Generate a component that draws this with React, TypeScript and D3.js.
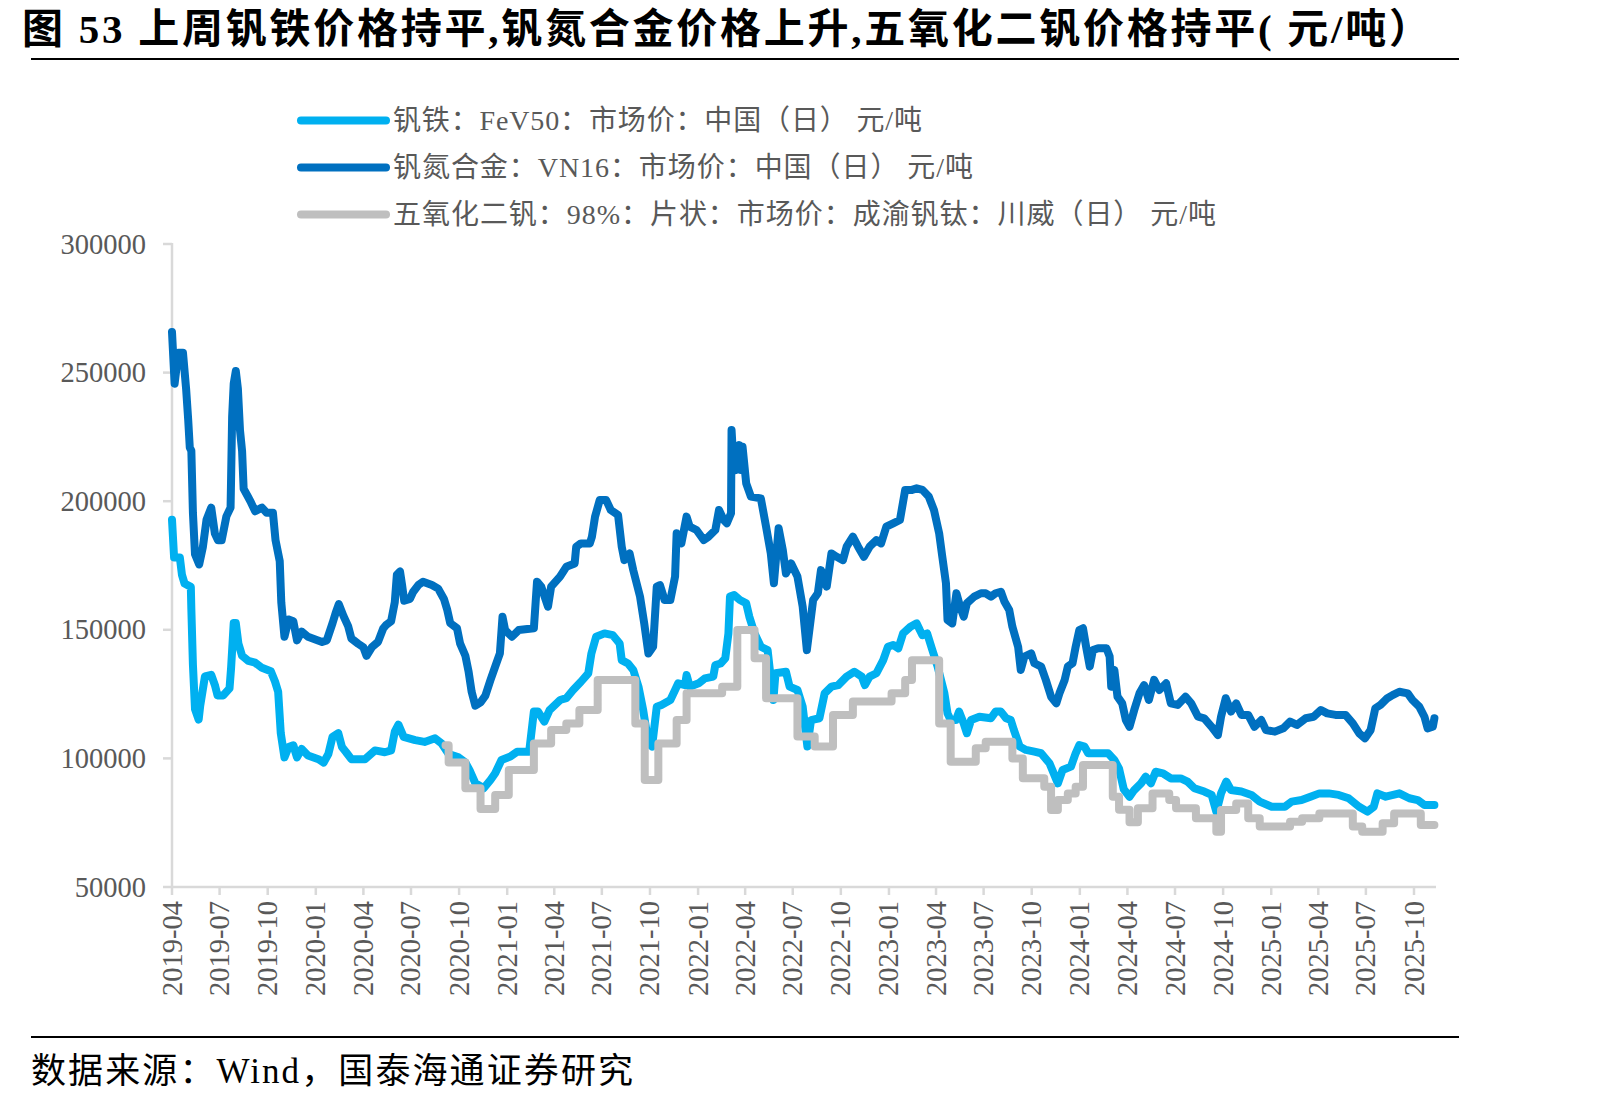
import React from "react";
import * as d3 from "d3";

// 钒铁 FeV50 (元/吨)
const fev50: [string, number][] = [
  ["2019-04-01", 192800], ["2019-04-05", 178100], ["2019-04-16", 178100], ["2019-04-20", 171400],
  ["2019-04-25", 168000], ["2019-05-07", 166700], ["2019-05-08", 158000], ["2019-05-11", 136500],
  ["2019-05-15", 119100], ["2019-05-22", 115100], ["2019-05-25", 120500], ["2019-06-03", 131900],
  ["2019-06-15", 132500], ["2019-06-22", 128500], ["2019-06-27", 124500], ["2019-07-08", 124500],
  ["2019-07-20", 127200], ["2019-07-23", 135200], ["2019-07-28", 152600], ["2019-08-01", 152600],
  ["2019-08-06", 144600], ["2019-08-13", 139900], ["2019-08-25", 137900], ["2019-09-07", 137200],
  ["2019-09-20", 135200], ["2019-10-07", 133900], ["2019-10-15", 129900], ["2019-10-21", 125900],
  ["2019-10-26", 109800], ["2019-11-02", 100400], ["2019-11-10", 104400], ["2019-11-19", 105100],
  ["2019-11-26", 100400], ["2019-12-05", 103700], ["2019-12-17", 101100], ["2020-01-06", 99700],
  ["2020-01-16", 98400], ["2020-01-25", 101700], ["2020-02-02", 108400], ["2020-02-13", 109800],
  ["2020-02-20", 104400], ["2020-02-28", 102400], ["2020-03-09", 99700], ["2020-04-04", 99700],
  ["2020-04-23", 103100], ["2020-05-12", 102400], ["2020-05-24", 103100], ["2020-05-31", 110400],
  ["2020-06-07", 113100], ["2020-06-17", 108400], ["2020-07-09", 107100], ["2020-07-27", 106400],
  ["2020-08-16", 107800], ["2020-08-29", 105700], ["2020-09-11", 101700], ["2020-09-30", 100400],
  ["2020-10-13", 98400], ["2020-10-22", 95000], ["2020-11-01", 90400], ["2020-11-17", 88400],
  ["2020-11-30", 91600], ["2020-12-09", 94200], ["2020-12-21", 99400], ["2021-01-07", 100700],
  ["2021-01-20", 102600], ["2021-02-12", 102600], ["2021-02-21", 118200], ["2021-03-01", 118200],
  ["2021-03-13", 114300], ["2021-03-23", 118800], ["2021-04-12", 122700], ["2021-04-24", 123400],
  ["2021-05-07", 126600], ["2021-05-22", 129800], ["2021-06-05", 133100], ["2021-06-11", 140800],
  ["2021-06-20", 147300], ["2021-07-06", 148600], ["2021-07-22", 147900], ["2021-08-04", 144700],
  ["2021-08-08", 138200], ["2021-08-20", 136900], ["2021-08-30", 134400], ["2021-09-09", 127900],
  ["2021-09-18", 118800], ["2021-09-28", 105900], ["2021-10-05", 104600], ["2021-10-14", 120100],
  ["2021-10-23", 120800], ["2021-11-09", 122700], ["2021-11-18", 126600], ["2021-11-24", 129200],
  ["2021-12-07", 128500], ["2021-12-10", 132400], ["2021-12-16", 127900], ["2022-01-02", 129200],
  ["2022-01-14", 131100], ["2022-01-30", 131800], ["2022-02-03", 136300], ["2022-02-13", 136900],
  ["2022-02-22", 138900], ["2022-02-28", 148600], ["2022-03-03", 162900], ["2022-03-11", 163500],
  ["2022-03-22", 161600], ["2022-04-03", 160300], ["2022-04-09", 155100], ["2022-04-19", 148600],
  ["2022-05-01", 143400], ["2022-05-14", 142100], ["2022-05-21", 129200], ["2022-05-25", 122700],
  ["2022-05-29", 133100], ["2022-06-18", 133700], ["2022-06-25", 127900], ["2022-07-10", 126600],
  ["2022-07-20", 120100], ["2022-07-29", 104600], ["2022-08-05", 114900], ["2022-08-21", 115600],
  ["2022-08-31", 125300], ["2022-09-13", 127900], ["2022-09-26", 128500], ["2022-10-12", 131800],
  ["2022-10-27", 133700], ["2022-11-10", 131800], ["2022-11-16", 128500], ["2022-11-25", 131800],
  ["2022-12-08", 133100], ["2022-12-21", 138200], ["2022-12-30", 143400], ["2023-01-09", 144100],
  ["2023-01-19", 142800], ["2023-01-28", 148600], ["2023-02-11", 151200], ["2023-02-23", 152500],
  ["2023-03-01", 149900], ["2023-03-06", 147900], ["2023-03-15", 148600], ["2023-03-25", 142100],
  ["2023-04-04", 135700], ["2023-04-17", 125300], ["2023-04-23", 117500], ["2023-04-29", 114900],
  ["2023-05-09", 114900], ["2023-05-15", 118200], ["2023-05-24", 113600], ["2023-05-30", 109800],
  ["2023-06-07", 114900], ["2023-06-23", 116200], ["2023-07-15", 115600], ["2023-07-24", 118200],
  ["2023-08-03", 118200], ["2023-08-13", 115600], ["2023-08-22", 114900], ["2023-08-28", 111000],
  ["2023-09-08", 104600], ["2023-09-20", 103300], ["2023-10-06", 102600], ["2023-10-19", 102000],
  ["2023-11-04", 98100], ["2023-11-20", 90300], ["2023-11-29", 95500], ["2023-12-15", 96800],
  ["2023-12-24", 102000], ["2023-12-31", 105200], ["2024-01-10", 104600], ["2024-01-17", 102000],
  ["2024-02-05", 102000], ["2024-02-24", 102000], ["2024-03-07", 99400], ["2024-03-16", 96000],
  ["2024-03-25", 88000], ["2024-04-05", 85100], ["2024-04-14", 87700], ["2024-04-27", 90300],
  ["2024-05-06", 92900], ["2024-05-16", 90300], ["2024-05-25", 94800], ["2024-06-08", 94200],
  ["2024-06-23", 92200], ["2024-07-12", 92200], ["2024-07-25", 91000], ["2024-08-07", 88400],
  ["2024-08-26", 87100], ["2024-09-09", 85800], ["2024-09-18", 79300], ["2024-09-27", 86400],
  ["2024-10-07", 91000], ["2024-10-16", 87700], ["2024-11-05", 87100], ["2024-11-24", 85800],
  ["2024-12-10", 83200], ["2025-01-02", 81200], ["2025-01-27", 81200], ["2025-02-09", 83200],
  ["2025-02-28", 83800], ["2025-03-17", 85100], ["2025-04-03", 86400], ["2025-04-21", 86400],
  ["2025-05-10", 85800], ["2025-05-29", 84500], ["2025-06-18", 81200], ["2025-07-04", 79300],
  ["2025-07-16", 81200], ["2025-07-23", 86400], ["2025-08-08", 85100], ["2025-09-03", 86400],
  ["2025-09-22", 84500], ["2025-10-08", 83800], ["2025-10-21", 81900], ["2025-11-09", 81900],
];

// 钒氮合金 VN16 (元/吨)
const vn16: [string, number][] = [
  ["2019-04-01", 265800], ["2019-04-06", 245700], ["2019-04-13", 257700], ["2019-04-22", 257700],
  ["2019-04-28", 243700], ["2019-05-02", 231600], ["2019-05-05", 220900], ["2019-05-08", 219600],
  ["2019-05-11", 195500], ["2019-05-15", 179400], ["2019-05-23", 175400], ["2019-05-30", 182100],
  ["2019-06-06", 192800], ["2019-06-15", 197500], ["2019-06-22", 187400], ["2019-06-28", 184800],
  ["2019-07-05", 184800], ["2019-07-14", 194100], ["2019-07-22", 197500], ["2019-07-23", 208900],
  ["2019-07-25", 232900], ["2019-07-28", 245700], ["2019-08-01", 250600], ["2019-08-05", 243700],
  ["2019-08-09", 227600], ["2019-08-13", 219600], ["2019-08-16", 204800], ["2019-08-23", 202200],
  ["2019-08-30", 199500], ["2019-09-07", 196100], ["2019-09-20", 197500], ["2019-09-29", 195500],
  ["2019-10-11", 195500], ["2019-10-16", 184800], ["2019-10-24", 176700], ["2019-10-27", 160700],
  ["2019-11-02", 147300], ["2019-11-10", 154000], ["2019-11-19", 153300], ["2019-11-26", 145900],
  ["2019-12-05", 149300], ["2019-12-17", 147300], ["2020-01-13", 145300], ["2020-01-22", 145900],
  ["2020-02-02", 152600], ["2020-02-08", 156600], ["2020-02-14", 160000], ["2020-02-23", 155300],
  ["2020-03-03", 151300], ["2020-03-09", 146600], ["2020-03-22", 144600], ["2020-04-01", 143200],
  ["2020-04-07", 139900], ["2020-04-17", 143200], ["2020-04-29", 145300], ["2020-05-09", 150600],
  ["2020-05-15", 152000], ["2020-05-24", 153300], ["2020-05-31", 160700], ["2020-06-04", 171400],
  ["2020-06-10", 172700], ["2020-06-14", 167400], ["2020-06-18", 161300], ["2020-06-29", 162000],
  ["2020-07-05", 164700], ["2020-07-15", 167400], ["2020-07-24", 168700], ["2020-08-10", 167400],
  ["2020-08-22", 166000], ["2020-09-02", 162000], ["2020-09-08", 158000], ["2020-09-14", 152600],
  ["2020-09-27", 150600], ["2020-10-03", 144600], ["2020-10-13", 139900], ["2020-10-19", 133900],
  ["2020-10-25", 125900], ["2020-11-01", 120500], ["2020-11-11", 121800], ["2020-11-20", 124300],
  ["2020-11-30", 130500], ["2020-12-09", 135700], ["2020-12-18", 140800], ["2020-12-23", 155100],
  ["2020-12-28", 149900], ["2021-01-10", 147300], ["2021-01-23", 149900], ["2021-02-21", 150600],
  ["2021-02-27", 168700], ["2021-03-07", 166800], ["2021-03-20", 159000], ["2021-03-26", 166800],
  ["2021-04-12", 170700], ["2021-04-24", 174500], ["2021-05-10", 175800], ["2021-05-13", 182300],
  ["2021-05-22", 183600], ["2021-06-08", 183600], ["2021-06-12", 186200], ["2021-06-18", 194000],
  ["2021-06-27", 200500], ["2021-07-09", 200500], ["2021-07-18", 196600], ["2021-08-01", 194600],
  ["2021-08-08", 182300], ["2021-08-13", 177100], ["2021-08-23", 179700], ["2021-08-30", 173200],
  ["2021-09-12", 162900], ["2021-09-20", 152500], ["2021-09-28", 140800], ["2021-10-07", 143400],
  ["2021-10-14", 166800], ["2021-10-20", 167400], ["2021-10-29", 161600], ["2021-11-09", 161600],
  ["2021-11-18", 170700], ["2021-11-21", 187500], ["2021-11-30", 183600], ["2021-12-10", 194000],
  ["2021-12-16", 190100], ["2021-12-29", 188800], ["2022-01-12", 184900], ["2022-01-21", 186200],
  ["2022-02-03", 188800], ["2022-02-10", 196600], ["2022-02-19", 192700], ["2022-02-25", 191400],
  ["2022-03-05", 195300], ["2022-03-06", 227700], ["2022-03-10", 213400], ["2022-03-14", 212100],
  ["2022-03-21", 221800], ["2022-03-24", 212100], ["2022-03-27", 221200], ["2022-04-03", 206900],
  ["2022-04-12", 201800], ["2022-05-01", 201100], ["2022-05-11", 190100], ["2022-05-20", 179700],
  ["2022-05-26", 168100], ["2022-06-04", 189500], ["2022-06-12", 181000], ["2022-06-18", 171900],
  ["2022-06-28", 175800], ["2022-07-10", 170700], ["2022-07-20", 159000], ["2022-07-28", 142100],
  ["2022-08-09", 161600], ["2022-08-18", 164200], ["2022-08-24", 173200], ["2022-09-04", 166800],
  ["2022-09-13", 179700], ["2022-09-23", 178400], ["2022-10-05", 177100], ["2022-10-12", 182300],
  ["2022-10-24", 186200], ["2022-11-03", 182300], ["2022-11-14", 178400], ["2022-11-25", 182300],
  ["2022-12-08", 184900], ["2022-12-17", 183600], ["2022-12-27", 190100], ["2023-01-09", 191400],
  ["2023-01-22", 192700], ["2023-02-01", 204400], ["2023-02-14", 204400], ["2023-02-23", 205000],
  ["2023-03-06", 204400], ["2023-03-18", 201800], ["2023-03-28", 196600], ["2023-04-07", 187500],
  ["2023-04-13", 178400], ["2023-04-20", 168100], ["2023-04-23", 153800], ["2023-05-02", 152500],
  ["2023-05-10", 164200], ["2023-05-17", 159000], ["2023-05-24", 155100], ["2023-05-30", 160300],
  ["2023-06-13", 162900], ["2023-06-26", 164200], ["2023-07-05", 164200], ["2023-07-15", 162900],
  ["2023-07-24", 164200], ["2023-08-03", 164800], ["2023-08-10", 160900], ["2023-08-19", 157700],
  ["2023-08-25", 151200], ["2023-09-05", 143400], ["2023-09-10", 134400], ["2023-09-17", 139600],
  ["2023-09-30", 140800], ["2023-10-06", 137000], ["2023-10-19", 135700], ["2023-10-28", 130500],
  ["2023-11-07", 124000], ["2023-11-17", 121400], ["2023-11-23", 125300], ["2023-12-03", 130500],
  ["2023-12-09", 135700], ["2023-12-18", 137000], ["2023-12-24", 143400], ["2023-12-31", 149900],
  ["2024-01-07", 150600], ["2024-01-13", 143400], ["2024-01-20", 135700], ["2024-01-26", 142100],
  ["2024-02-05", 142800], ["2024-02-21", 142800], ["2024-02-27", 139600], ["2024-03-01", 127900],
  ["2024-03-07", 134400], ["2024-03-13", 124000], ["2024-03-22", 121400], ["2024-03-29", 114900],
  ["2024-04-05", 112300], ["2024-04-14", 118800], ["2024-04-24", 125300], ["2024-05-03", 128500],
  ["2024-05-12", 122700], ["2024-05-22", 130500], ["2024-06-01", 126600], ["2024-06-14", 129200],
  ["2024-06-23", 121400], ["2024-07-06", 120800], ["2024-07-21", 124000], ["2024-08-01", 121400],
  ["2024-08-14", 116200], ["2024-08-26", 115600], ["2024-09-09", 112300], ["2024-09-21", 109100],
  ["2024-09-27", 116200], ["2024-10-06", 123400], ["2024-10-16", 118200], ["2024-10-26", 121400],
  ["2024-11-05", 116900], ["2024-11-18", 116900], ["2024-11-30", 112300], ["2024-12-13", 114900],
  ["2024-12-22", 111000], ["2025-01-08", 110400], ["2025-01-24", 111700], ["2025-02-06", 114300],
  ["2025-02-19", 113000], ["2025-03-08", 115600], ["2025-03-23", 116200], ["2025-04-06", 118800],
  ["2025-04-18", 117500], ["2025-05-04", 116900], ["2025-05-23", 116900], ["2025-06-06", 113600],
  ["2025-06-18", 109800], ["2025-06-29", 107800], ["2025-07-10", 111000], ["2025-07-19", 119500],
  ["2025-07-29", 120800], ["2025-08-11", 123400], ["2025-08-21", 124600], ["2025-09-03", 125900],
  ["2025-09-19", 125300], ["2025-09-28", 122700], ["2025-10-11", 120100], ["2025-10-21", 116200],
  ["2025-10-27", 111700], ["2025-11-06", 112300], ["2025-11-09", 115600],
];

// 五氧化二钒 98% 片状 (元/吨), price steps
const v2o5: [string, number][] = [
  ["2020-09-05", 105100], ["2020-09-11", 98400], ["2020-10-13", 88400], ["2020-11-11", 80300],
  ["2020-12-09", 85800], ["2021-01-04", 95500], ["2021-02-21", 105800], ["2021-03-26", 111000],
  ["2021-04-24", 113600], ["2021-05-19", 118800], ["2021-06-23", 130500], ["2021-09-03", 113600],
  ["2021-09-21", 91600], ["2021-10-17", 105800], ["2021-11-21", 114900], ["2021-12-10", 125300],
  ["2022-02-16", 127900], ["2022-03-17", 149900], ["2022-04-19", 138900], ["2022-05-11", 123400],
  ["2022-07-10", 108500], ["2022-08-12", 104600], ["2022-09-16", 116900], ["2022-10-24", 122100],
  ["2023-01-06", 125300], ["2023-02-01", 130500], ["2023-02-14", 138200], ["2023-04-07", 113600],
  ["2023-04-29", 98700], ["2023-06-16", 103900], ["2023-07-05", 106500], ["2023-08-25", 100000],
  ["2023-09-14", 92300], ["2023-10-25", 89000], ["2023-11-07", 79900], ["2023-11-20", 83800],
  ["2023-12-09", 86400], ["2023-12-24", 89000], ["2024-01-07", 97400], ["2024-03-04", 85100],
  ["2024-03-16", 80000], ["2024-04-05", 75200], ["2024-04-21", 80600], ["2024-05-19", 86400],
  ["2024-06-20", 83800], ["2024-07-03", 80600], ["2024-08-10", 76700], ["2024-09-18", 71500],
  ["2024-09-27", 79900], ["2024-10-26", 82500], ["2024-11-18", 76700], ["2024-12-10", 73500],
  ["2025-02-06", 75400], ["2025-03-01", 76700], ["2025-04-03", 78600], ["2025-06-06", 73500],
  ["2025-06-24", 71500], ["2025-08-02", 74800], ["2025-08-24", 78600], ["2025-10-14", 74100],
  ["2025-11-09", 74100],
];

const yTicks = [50000, 100000, 150000, 200000, 250000, 300000];
const seriesNames = [
  "钒铁：FeV50：市场价：中国（日） 元/吨",
  "钒氮合金：VN16：市场价：中国（日） 元/吨",
  "五氧化二钒：98%：片状：市场价：成渝钒钛：川威（日） 元/吨",
];
const seriesColors = ["#00B0F0", "#0070C0", "#BFBFBF"];
const titleText = "图 53  上周钒铁价格持平,钒氮合金价格上升,五氧化二钒价格持平( 元/吨）";
const sourceText = "数据来源：Wind，国泰海通证券研究";

const serif = '"Liberation Serif", "Noto Sans CJK SC", serif';

export default function App() {
  const parse = d3.timeParse("%Y-%m-%d");
  const x = d3.scaleTime()
    .domain([parse("2019-04-01")!, parse("2025-10-01")!])
    .range([172, 1414]);
  const y = d3.scaleLinear().domain([50000, 300000]).range([887, 244]);

  const line = d3.line<[string, number]>()
    .x(d => x(parse(d[0])!))
    .y(d => y(d[1]));
  const stepLine = d3.line<[string, number]>()
    .x(d => x(parse(d[0])!))
    .y(d => y(d[1]))
    .curve(d3.curveStepAfter);

  const xTicks = d3.timeMonth.range(parse("2019-04-01")!, parse("2025-10-02")!, 3);
  const fmt = d3.timeFormat("%Y-%m");
  const axisColor = "#D9D9D9";
  const textColor = "#595959";

  const paths = [line(fev50), line(vn16), stepLine(v2o5)];
  // widths of the legend rows in the reference
  const legendWidths = [529, 580, 823];

  return (
    <svg width={1602} height={1103} style={{ position: "absolute", left: 0, top: 0, background: "#fff" }}>
      <text x={22} y={43} fontFamily={serif} fontWeight="bold" fontSize={41} fill="#000"
        textLength={1408} lengthAdjust="spacing">{titleText}</text>
      <line x1={31} x2={1459} y1={59} y2={59} stroke="#000" strokeWidth={2} />

      {seriesNames.map((name, i) => {
        const ly = 120.5 + i * 47;
        return (
          <g key={name}>
            <line x1={301} x2={386} y1={ly} y2={ly} stroke={seriesColors[i]} strokeWidth={8} strokeLinecap="round" />
            <text x={393} y={ly} dominantBaseline="central" fontFamily={serif} fontSize={28}
              fill={textColor} textLength={legendWidths[i]} lengthAdjust="spacing">{name}</text>
          </g>
        );
      })}

      {/* y axis */}
      <line x1={172} x2={172} y1={243} y2={888} stroke={axisColor} strokeWidth={2.5} />
      {yTicks.map(t => (
        <g key={t}>
          <line x1={163} x2={172} y1={y(t)} y2={y(t)} stroke={axisColor} strokeWidth={2.5} />
          <text x={146} y={y(t)} textAnchor="end" dominantBaseline="central" fontFamily={serif} fontSize={28.5} fill={textColor}>{t}</text>
        </g>
      ))}

      {/* x axis */}
      <line x1={171} x2={1436} y1={887} y2={887} stroke={axisColor} strokeWidth={2.5} />
      {xTicks.map(t => (
        <g key={t.getTime()}>
          <line x1={x(t)} x2={x(t)} y1={887} y2={895} stroke={axisColor} strokeWidth={2.5} />
          <text transform={`translate(${x(t)},901) rotate(-90)`} textAnchor="end" dominantBaseline="central" fontFamily={serif} fontSize={28.5} fill={textColor}>{fmt(t)}</text>
        </g>
      ))}

      {paths.map((p, i) => (
        <path key={i} d={p || ""} fill="none" stroke={seriesColors[i]} strokeWidth={8} strokeLinejoin="round" strokeLinecap="round" />
      ))}

      <line x1={31} x2={1459} y1={1037} y2={1037} stroke="#000" strokeWidth={2} />
      <text x={31} y={1071} dominantBaseline="central" fontFamily={serif} fontSize={35} fill="#000"
        textLength={602} lengthAdjust="spacing">{sourceText}</text>
    </svg>
  );
}
